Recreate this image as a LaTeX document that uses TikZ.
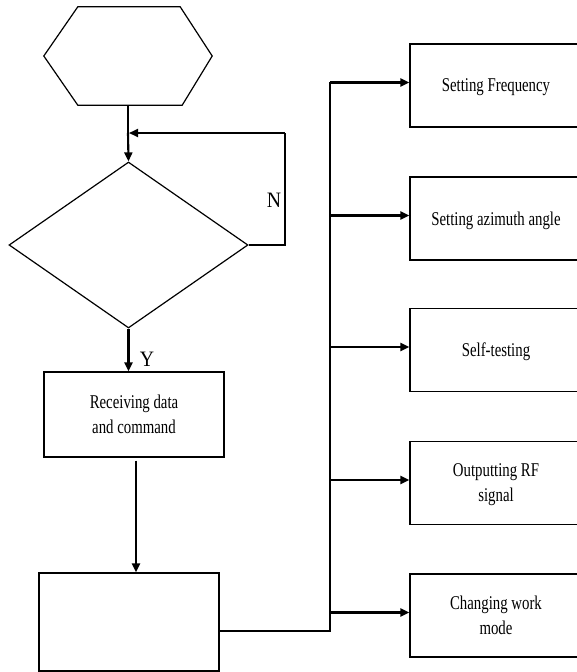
\documentclass[tikz,border=0pt]{standalone}
\usepackage{fontspec}
\setmainfont{Liberation Serif}
\newfontfamily\cond[FakeStretch=0.76]{Liberation Serif}
\newfontfamily\condl[FakeStretch=0.9]{Liberation Serif}
\usetikzlibrary{arrows.meta,shapes.geometric,calc}
\begin{document}
\begin{tikzpicture}[x=1pt,y=-1pt,
  box/.style={draw,line width=1.2pt,rectangle,inner sep=0pt,align=center,font=\cond\fontsize{19.5}{25}\selectfont},
  fbox/.style={box,minimum width=172pt,minimum height=83pt,text depth=0pt},
  arr/.style={line width=2.1pt,-{Triangle[length=9pt,width=8pt]}},
  thinln/.style={line width=1.2pt},
  lab/.style={font=\condl\fontsize{22}{24}\selectfont,inner sep=0pt}]
\useasboundingbox (0,0) rectangle (576,672);
% start hexagon
\node[minimum width=168pt,minimum height=98pt,inner sep=0pt] (hex) at (128,56) {};
\draw[line width=1.2pt] (hex.west) -- ($(hex.north west)+(34,0)$) -- ($(hex.north east)+(-32,0)$)
  -- (hex.east) -- ($(hex.south east)+(-30,0)$) -- ($(hex.south west)+(34,0)$) -- cycle;
% decision diamond
\node[draw,diamond,line width=1.2pt,inner sep=0pt,minimum width=239pt,minimum height=166pt] (dia) at (128.5,245) {};
% boxes on the left
\node[box,minimum width=180pt,minimum height=85pt] (recv) at (134,414.5) {Receiving data\\and command};
\node[box,minimum width=180pt,minimum height=98pt] (proc) at (129,622) {};
% boxes on the right
\node[fbox] (f1) at (496,85.5) {Setting Frequency};
\node[fbox] (f2) at (496,218.5) {Setting azimuth angle};
\node[fbox] (f3) at (496,350) {Self-testing};
\node[fbox] (f4) at (496,483) {Outputting RF\\signal};
\node[fbox] (f5) at (496,615.5) {Changing work\\mode};
% connectors
\coordinate (loopin) at (128,133);
\coordinate (loopc) at (285,133);
\draw[line width=2.1pt] (hex.south) -- (loopin);
\draw[arr] (loopin) -- (dia.north);
\draw[thinln] (dia.east) -| (loopc);
\draw[arr] (loopc) -- ([xshift=1pt]loopin);
\node[lab] (nlab) at (274,200) {N};
\draw[arr] (dia.south) -- (dia.south |- recv.north);
\node[lab] (ylab) at (147,359) {Y};
\draw[arr] ([xshift=2pt,yshift=-3pt]recv.south) -- ([xshift=2pt]recv.south |- proc.north);
\coordinate (busb) at (330,631);
\coordinate (bust) at (330,82);
\draw[thinln] ([yshift=-9pt]proc.east) -- (busb) -- (bust);
\foreach \n in {f1,f2,f3,f4,f5}
  \draw[arr] ($(busb |- \n.west)+(0,-3)$) -- ($(\n.west)+(0,-3)$);
\end{tikzpicture}
\end{document}
